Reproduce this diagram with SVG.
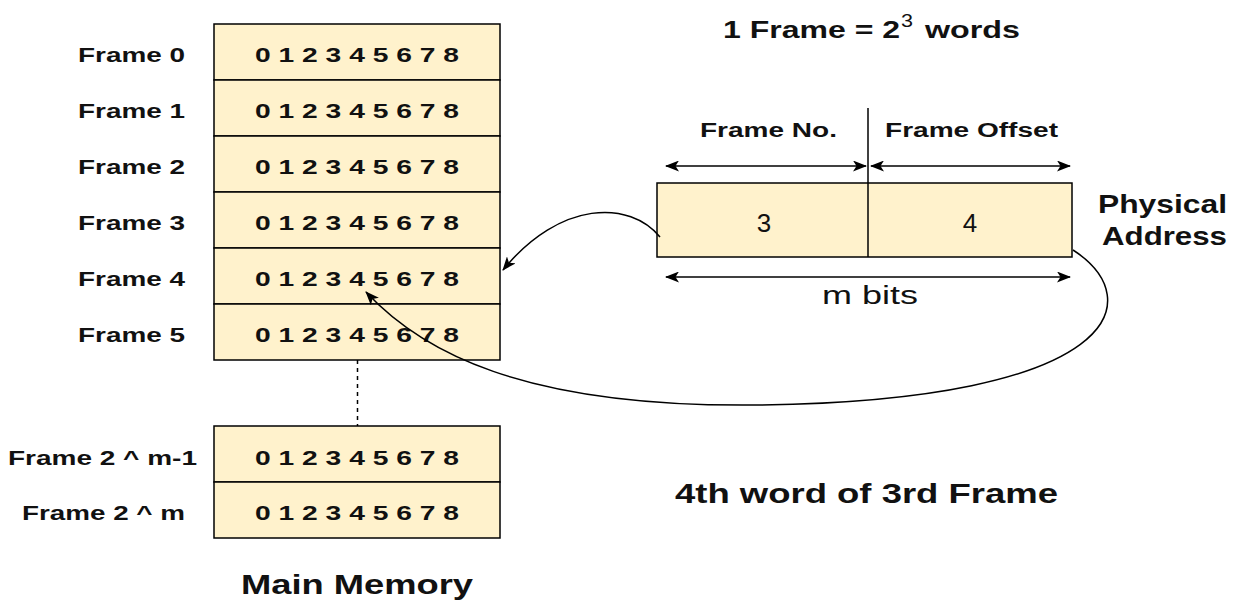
<svg xmlns="http://www.w3.org/2000/svg" width="1237" height="604" viewBox="0 0 1237 604">
<defs>
<marker id="ah" viewBox="0 0 14 11" refX="13" refY="5.5" markerWidth="14" markerHeight="11" markerUnits="userSpaceOnUse" orient="auto-start-reverse">
<path d="M0,0 L14,5.5 L0,11 L3.5,5.5 z" fill="#000"/>
</marker>
</defs>
<style>
.cell{fill:#FFF2CC;stroke:#000;stroke-width:1.5}
.lbl{font-family:"Liberation Sans",Arial,sans-serif;font-weight:bold;font-size:21px;fill:#111}
.dig{font-family:"Liberation Sans",Arial,sans-serif;font-weight:bold;font-size:21px;fill:#111}
.big{font-family:"Liberation Sans",Arial,sans-serif;font-weight:bold;fill:#111}
.reg{font-family:"Liberation Sans",Arial,sans-serif;fill:#111}
.ln{fill:none;stroke:#000;stroke-width:1.5}
</style>
<rect width="1237" height="604" fill="#fff"/>

<g id="frame0">
<rect class="cell" x="214" y="24" width="286" height="56"/>
<text class="lbl" x="78" y="62" textLength="107" lengthAdjust="spacingAndGlyphs">Frame 0</text>
<text class="dig" x="255" y="62" textLength="204" lengthAdjust="spacingAndGlyphs">0 1 2 3 4 5 6 7 8</text>
</g>
<g id="frame1">
<rect class="cell" x="214" y="80" width="286" height="56"/>
<text class="lbl" x="78" y="118" textLength="107" lengthAdjust="spacingAndGlyphs">Frame 1</text>
<text class="dig" x="255" y="118" textLength="204" lengthAdjust="spacingAndGlyphs">0 1 2 3 4 5 6 7 8</text>
</g>
<g id="frame2">
<rect class="cell" x="214" y="136" width="286" height="56"/>
<text class="lbl" x="78" y="174" textLength="107" lengthAdjust="spacingAndGlyphs">Frame 2</text>
<text class="dig" x="255" y="174" textLength="204" lengthAdjust="spacingAndGlyphs">0 1 2 3 4 5 6 7 8</text>
</g>
<g id="frame3">
<rect class="cell" x="214" y="192" width="286" height="56"/>
<text class="lbl" x="78" y="230" textLength="107" lengthAdjust="spacingAndGlyphs">Frame 3</text>
<text class="dig" x="255" y="230" textLength="204" lengthAdjust="spacingAndGlyphs">0 1 2 3 4 5 6 7 8</text>
</g>
<g id="frame4">
<rect class="cell" x="214" y="248" width="286" height="56"/>
<text class="lbl" x="78" y="286" textLength="107" lengthAdjust="spacingAndGlyphs">Frame 4</text>
<text class="dig" x="255" y="286" textLength="204" lengthAdjust="spacingAndGlyphs">0 1 2 3 4 5 6 7 8</text>
</g>
<g id="frame5">
<rect class="cell" x="214" y="304" width="286" height="56"/>
<text class="lbl" x="78" y="342" textLength="107" lengthAdjust="spacingAndGlyphs">Frame 5</text>
<text class="dig" x="255" y="342" textLength="204" lengthAdjust="spacingAndGlyphs">0 1 2 3 4 5 6 7 8</text>
</g>
<g id="frameM1">
<rect class="cell" x="214" y="426" width="286" height="56"/>
<text class="lbl" x="8" y="465" textLength="189" lengthAdjust="spacingAndGlyphs">Frame 2 ^ m-1</text>
<text class="dig" x="255" y="465" textLength="204" lengthAdjust="spacingAndGlyphs">0 1 2 3 4 5 6 7 8</text>
</g>
<g id="frameM">
<rect class="cell" x="214" y="482" width="286" height="56"/>
<text class="lbl" x="22" y="520" textLength="163" lengthAdjust="spacingAndGlyphs">Frame 2 ^ m</text>
<text class="dig" x="255" y="520" textLength="204" lengthAdjust="spacingAndGlyphs">0 1 2 3 4 5 6 7 8</text>
</g>
<g id="mainMemoryLabel">
<text class="big" x="241" y="594" font-size="28" textLength="232" lengthAdjust="spacingAndGlyphs">Main Memory</text>
</g>

<g id="frameSize">
<text class="big" x="723" y="38" font-size="24" textLength="177" lengthAdjust="spacingAndGlyphs">1 Frame = 2</text>
<text class="reg" x="901" y="27" font-size="18" textLength="12" lengthAdjust="spacingAndGlyphs">3</text>
<text class="big" x="925" y="38" font-size="24" textLength="95" lengthAdjust="spacingAndGlyphs">words</text>
</g>

<g id="physicalAddress">
<rect class="cell" x="657" y="183" width="415" height="74"/>
<text class="reg" x="764" y="232" font-size="26" text-anchor="middle">3</text>
<text class="reg" x="970" y="232" font-size="26" text-anchor="middle">4</text>
<text class="big" x="1098" y="213" font-size="26" textLength="129" lengthAdjust="spacingAndGlyphs">Physical</text>
<text class="big" x="1102" y="245" font-size="26" textLength="125" lengthAdjust="spacingAndGlyphs">Address</text>
</g>

<g id="fieldLabels">
<text class="big" x="700" y="137" font-size="20" textLength="137" lengthAdjust="spacingAndGlyphs">Frame No.</text>
<text class="big" x="885" y="137" font-size="20" textLength="173" lengthAdjust="spacingAndGlyphs">Frame Offset</text>
<text class="reg" x="822" y="304" font-size="25" textLength="96" lengthAdjust="spacingAndGlyphs">m bits</text>
</g>

<g id="caption">
<text class="big" x="675" y="503" font-size="28" textLength="383" lengthAdjust="spacingAndGlyphs">4th word of 3rd Frame</text>
</g>

<g id="connectors">
<line class="ln" x1="868" y1="108" x2="868" y2="257"/>
<line class="ln" x1="666" y1="166" x2="866" y2="166" marker-start="url(#ah)" marker-end="url(#ah)"/>
<line class="ln" x1="871" y1="166" x2="1070" y2="166" marker-start="url(#ah)" marker-end="url(#ah)"/>
<line class="ln" x1="666" y1="277" x2="1070" y2="277" marker-start="url(#ah)" marker-end="url(#ah)"/>
<line class="ln" x1="357.5" y1="360" x2="357.5" y2="426" stroke-dasharray="4 4"/>
<path class="ln" d="M660 237 C 630 200, 560 200, 503 270" marker-end="url(#ah)"/>
<path class="ln" d="M1073 250 C 1150 300, 1120 400, 760 405 C 520 408, 420 350, 366 292" marker-end="url(#ah)"/>
</g>
</svg>
